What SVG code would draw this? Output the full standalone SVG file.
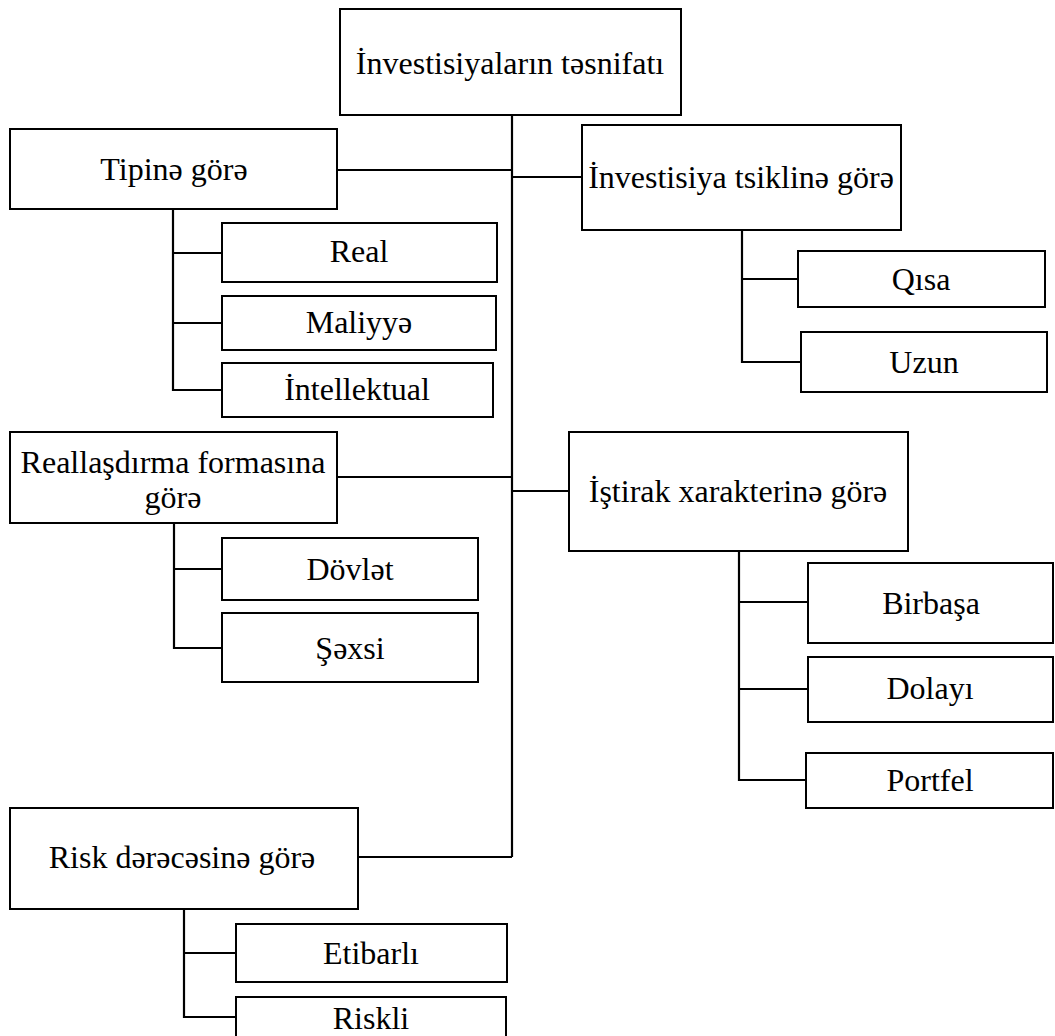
<svg xmlns="http://www.w3.org/2000/svg" width="1055" height="1036" viewBox="0 0 1055 1036">
<style>
.box{fill:#fff;stroke:#000;stroke-width:2}
.t{font-family:"Liberation Serif","Times New Roman",serif;font-size:32px;fill:#000;text-anchor:middle}
.c{fill:none;stroke:#000;stroke-width:2.2}
</style>
<rect width="1055" height="1036" fill="#fff"/>
<g id="connectors">
<path class="c" d="M512,115V857"/>
<path class="c" d="M337,170H512"/>
<path class="c" d="M512,177H582"/>
<path class="c" d="M337,477H512"/>
<path class="c" d="M512,491H569"/>
<path class="c" d="M358,857H512"/>
<path class="c" d="M173,209V390H222M173,253H222M173,323H222"/>
<path class="c" d="M742,230V362H801M742,279H798"/>
<path class="c" d="M174,523V648H222M174,569H222"/>
<path class="c" d="M739,551V780H806M739,602H808M739,689H808"/>
<path class="c" d="M184,909V1017H236M184,953H236"/>
</g>
<g id="root"><rect class="box" x="340" y="9" width="341" height="106"/><text class="t" x="510" y="74">İnvestisiyaların təsnifatı</text></g>
<g id="tipine"><rect class="box" x="10" y="129" width="327" height="80"/><text class="t" x="174" y="180">Tipinə görə</text></g>
<g id="real"><rect class="box" x="222" y="223" width="275" height="59"/><text class="t" x="359" y="262">Real</text></g>
<g id="maliyye"><rect class="box" x="222" y="296" width="274" height="54"/><text class="t" x="359" y="333">Maliyyə</text></g>
<g id="intellektual"><rect class="box" x="222" y="363" width="271" height="54"/><text class="t" x="357" y="400">İntellektual</text></g>
<g id="tsikl"><rect class="box" x="582" y="125" width="319" height="105"/><text class="t" x="741" y="188">İnvestisiya tsiklinə görə</text></g>
<g id="qisa"><rect class="box" x="798" y="251" width="247" height="56"/><text class="t" x="921" y="290">Qısa</text></g>
<g id="uzun"><rect class="box" x="801" y="332" width="246" height="60"/><text class="t" x="924" y="373">Uzun</text></g>
<g id="reallasdirma"><rect class="box" x="10" y="432" width="327" height="91"/><text class="t" x="173" y="473">Reallaşdırma formasına</text><text class="t" x="173" y="508">görə</text></g>
<g id="istirak"><rect class="box" x="569" y="432" width="339" height="119"/><text class="t" x="738" y="502">İştirak xarakterinə görə</text></g>
<g id="dovlet"><rect class="box" x="222" y="538" width="256" height="62"/><text class="t" x="350" y="580">Dövlət</text></g>
<g id="sexsi"><rect class="box" x="222" y="613" width="256" height="69"/><text class="t" x="350" y="659">Şəxsi</text></g>
<g id="birbasa"><rect class="box" x="808" y="563" width="245" height="80"/><text class="t" x="931" y="614">Birbaşa</text></g>
<g id="dolayi"><rect class="box" x="808" y="657" width="245" height="65"/><text class="t" x="930" y="699">Dolayı</text></g>
<g id="portfel"><rect class="box" x="806" y="753" width="247" height="55"/><text class="t" x="930" y="791">Portfel</text></g>
<g id="risk"><rect class="box" x="10" y="808" width="348" height="101"/><text class="t" x="182" y="868">Risk dərəcəsinə görə</text></g>
<g id="etibarli"><rect class="box" x="236" y="924" width="271" height="58"/><text class="t" x="371" y="964">Etibarlı</text></g>
<g id="riskli"><rect class="box" x="236" y="997" width="270" height="50"/><text class="t" x="371" y="1029">Riskli</text></g>
</svg>
